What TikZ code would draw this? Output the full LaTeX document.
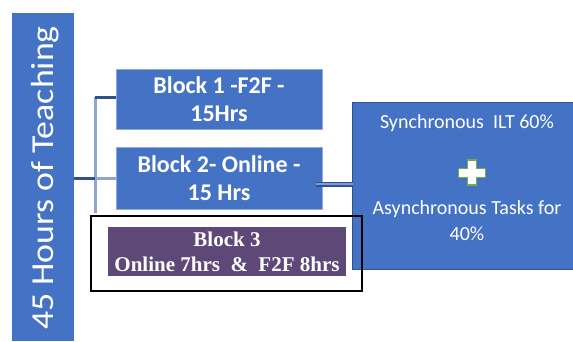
\documentclass[tikz,border=0pt]{standalone}
\usepackage{fontspec}
\setmainfont{Carlito}
\newfontfamily\serifb{Liberation Serif}
\definecolor{blueA}{HTML}{4472C4}
\definecolor{blueD}{HTML}{2F528F}
\definecolor{blueL}{HTML}{8EA5D2}
\definecolor{purp}{HTML}{5E4878}
\definecolor{greenP}{HTML}{70AD47}
\tikzset{
  blk/.style={fill=blueA, draw=blueA!60!white, line width=0.8pt, minimum width=206pt, minimum height=60pt, inner sep=0pt, text=white, align=center, font=\fontsize{24}{28}\selectfont\bfseries},
  conn/.style={draw=blueD, line width=3pt},
  connL/.style={draw=blueL, line width=3pt},
}
\begin{document}
\begin{tikzpicture}[x=1pt,y=-1pt]
\useasboundingbox (0,0) rectangle (573,341);
% vertical bar
\fill[blueA] (12,13) rectangle (74,341);
\node[rotate=90, anchor=base, text=white, font=\fontsize{32}{36}\selectfont, inner sep=0pt] (title) at (53,178) {\scalebox{1.12}[1]{45 Hours of Teaching}};
% tree lines
\coordinate (tv1) at (95,97);
\coordinate (tv2) at (95,213);
\coordinate (th) at (74,178);
\draw[connL] (tv1) -- (tv2);
\draw[conn] (th) -- (95,178);
\draw[connL] (95,178) -- (116,178);
\draw[conn] (tv1) -- (116,97);
% blocks
\node[blk, minimum height=60pt] (b1) at (219,99) {Block 1 -F2F -\\15Hrs};
\node[blk, minimum height=62pt] (b2) at (219,178) {Block 2- Online -\\15 Hrs};
% right box
\node[fill=blueA, draw=blueD, line width=0.8pt, minimum width=221pt, minimum height=167pt, inner sep=0pt] (rb) at (463,185.5) {};
\node[text=white, font=\fontsize{20}{24}\selectfont, inner sep=0pt] (t1) at (467,123) {Synchronous\ \ ILT 60\%};
\node[text=white, font=\fontsize{20}{26}\selectfont, align=center, inner sep=0pt] (t2) at (467,221) {Asynchronous Tasks for\\40\%};
% plus sign
\begin{scope}[shift={(472,173)}]
\fill[white, draw=greenP, line width=1.5pt]
  (-4.5,-13) -- (4.5,-13) -- (4.5,-4.5) -- (13.5,-4.5) -- (13.5,4.5) -- (4.5,4.5) -- (4.5,12) -- (-4.5,12) -- (-4.5,4.5) -- (-13.5,4.5) -- (-13.5,-4.5) -- (-4.5,-4.5) -- cycle;
\end{scope}
\node[inner sep=0pt, minimum size=0pt] (plus) at (472,173) {};
% connector block2 -> right box
\coordinate (c1) at (316,184);
\coordinate (c2) at (353,184);
\draw[blueD, line width=5pt] (c1) -- (c2);
\draw[blueA!70!white, line width=2.5pt] (c1) -- (c2);
% block 3
\node[draw=black, line width=2pt, minimum width=271pt, minimum height=75pt, inner sep=0pt] (b3) at (226.5,253.5) {};
\node[fill=purp, minimum width=238pt, minimum height=49pt, inner sep=0pt, text=white, align=center, font=\serifb\fontsize{21}{25}\selectfont\bfseries] (b3t) at (227,251.5) {Block 3\\Online 7hrs\ \ \&\ \ F2F 8hrs};
\end{tikzpicture}
\end{document}
